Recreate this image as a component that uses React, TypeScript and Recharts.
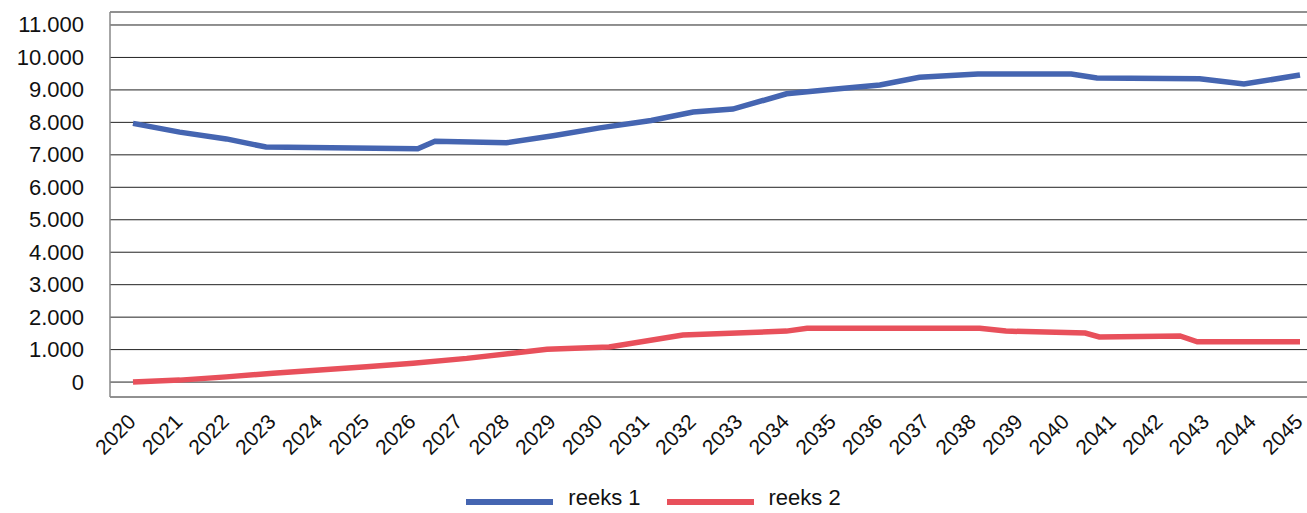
import React from "react";
import { LineChart, Line, XAxis, YAxis, CartesianGrid, Legend } from "recharts";

// Years on the axis
const years: number[] = [
  2020, 2021, 2022, 2023, 2024, 2025, 2026, 2027, 2028, 2029, 2030, 2031, 2032,
  2033, 2034, 2035, 2036, 2037, 2038, 2039, 2040, 2041, 2042, 2043, 2044, 2045,
];

const yTicks: number[] = [0, 1000, 2000, 3000, 4000, 5000, 6000, 7000, 8000, 9000, 10000, 11000];

// reeks 1 (blue), x positions are not always whole years
const reeks1X: number[] = [
  2020, 2021, 2022, 2022.85, 2026.1, 2026.47, 2028, 2029, 2030, 2031.1, 2032, 2032.85,
  2034, 2035, 2036, 2036.85, 2038.1, 2040.1, 2040.65, 2042.85, 2043.8, 2045,
];
const reeks1Y: number[] = [
  7970, 7700, 7490, 7240, 7190, 7420, 7370, 7590, 7830, 8060, 8320, 8410,
  8880, 9020, 9150, 9390, 9490, 9490, 9370, 9340, 9180, 9460,
];

// reeks 2 (red)
const reeks2X: number[] = [
  2020, 2021, 2022, 2023, 2024, 2025, 2026, 2027.15, 2028.87, 2030.2, 2031.78,
  2034, 2034.44, 2038.14, 2038.7, 2040.4, 2040.7, 2042.43, 2042.8, 2045,
];
const reeks2Y: number[] = [
  0, 60, 160, 270, 370, 470, 580, 730, 1010, 1080, 1450,
  1570, 1660, 1660, 1570, 1510, 1390, 1420, 1240, 1240,
];

const series1 = reeks1X.map((x, i) => ({ x, value: reeks1Y[i] }));
const series2 = reeks2X.map((x, i) => ({ x, value: reeks2Y[i] }));

const BLUE = "#4565B1";
const RED = "#E8505B";
const FONT = "'Liberation Sans', Arial, sans-serif";

const fmt = (v: number) => v.toString().replace(/\B(?=(\d{3})+(?!\d))/g, ".");

const YTick = (props: any) => {
  const { y, payload } = props;
  return (
    <text x={84} y={y} textAnchor="end" dominantBaseline="central" fontSize={22} fill="#111" fontFamily={FONT}>
      {fmt(payload.value)}
    </text>
  );
};

const XTick = (props: any) => {
  const { x, payload } = props;
  return (
    <text
      x={x + 4}
      y={423}
      textAnchor="end"
      fontSize={21}
      fill="#111"
      fontFamily={FONT}
      transform={`rotate(-45, ${x + 4}, 423)`}
    >
      {payload.value}
    </text>
  );
};

const legendItems = [
  { name: "reeks 1", color: BLUE },
  { name: "reeks 2", color: RED },
];

const renderLegend = () => (
  <div style={{ width: 1307, height: 30, display: "flex", justifyContent: "center", fontFamily: FONT }}>
    {legendItems.map((item, i) => (
      <div
        key={item.name}
        style={{ display: "flex", alignItems: "center", height: 22, marginTop: 4, marginLeft: i > 0 ? 26 : 0 }}
      >
        <span style={{ display: "inline-block", width: 87, height: 6, background: item.color, marginTop: 8 }} />
        <span style={{ marginLeft: 15, fontSize: 22, lineHeight: "22px", color: "#111" }}>{item.name}</span>
      </div>
    ))}
  </div>
);

export default function App() {
  return (
    <div style={{ position: "absolute", left: 0, top: 0, width: 1307, height: 513, background: "#fff" }}>
      <LineChart width={1307} height={513} margin={{ top: 12, right: 0, left: 0, bottom: 0 }}>
        <CartesianGrid vertical={false} stroke="#222" strokeWidth={1} />
        <XAxis
          type="number"
          dataKey="x"
          domain={[2020, 2045]}
          ticks={years}
          interval={0}
          axisLine={false}
          tickLine={false}
          padding={{ left: 23, right: 7 }}
          height={86}
          tick={<XTick />}
        />
        <YAxis
          type="number"
          domain={[-460, 11400]}
          ticks={yTicks}
          allowDataOverflow
          width={110}
          axisLine={{ stroke: "#888", strokeWidth: 1.5 }}
          tickLine={false}
          tick={<YTick />}
        />
        <Legend verticalAlign="bottom" content={renderLegend} wrapperStyle={{ left: 0, width: 1307 }} />
        <Line
          data={series1}
          dataKey="value"
          name="reeks 1"
          type="linear"
          stroke={BLUE}
          strokeWidth={5.5}
          dot={false}
          activeDot={false}
          isAnimationActive={false}
        />
        <Line
          data={series2}
          dataKey="value"
          name="reeks 2"
          type="linear"
          stroke={RED}
          strokeWidth={5.5}
          dot={false}
          activeDot={false}
          isAnimationActive={false}
        />
      </LineChart>
    </div>
  );
}
